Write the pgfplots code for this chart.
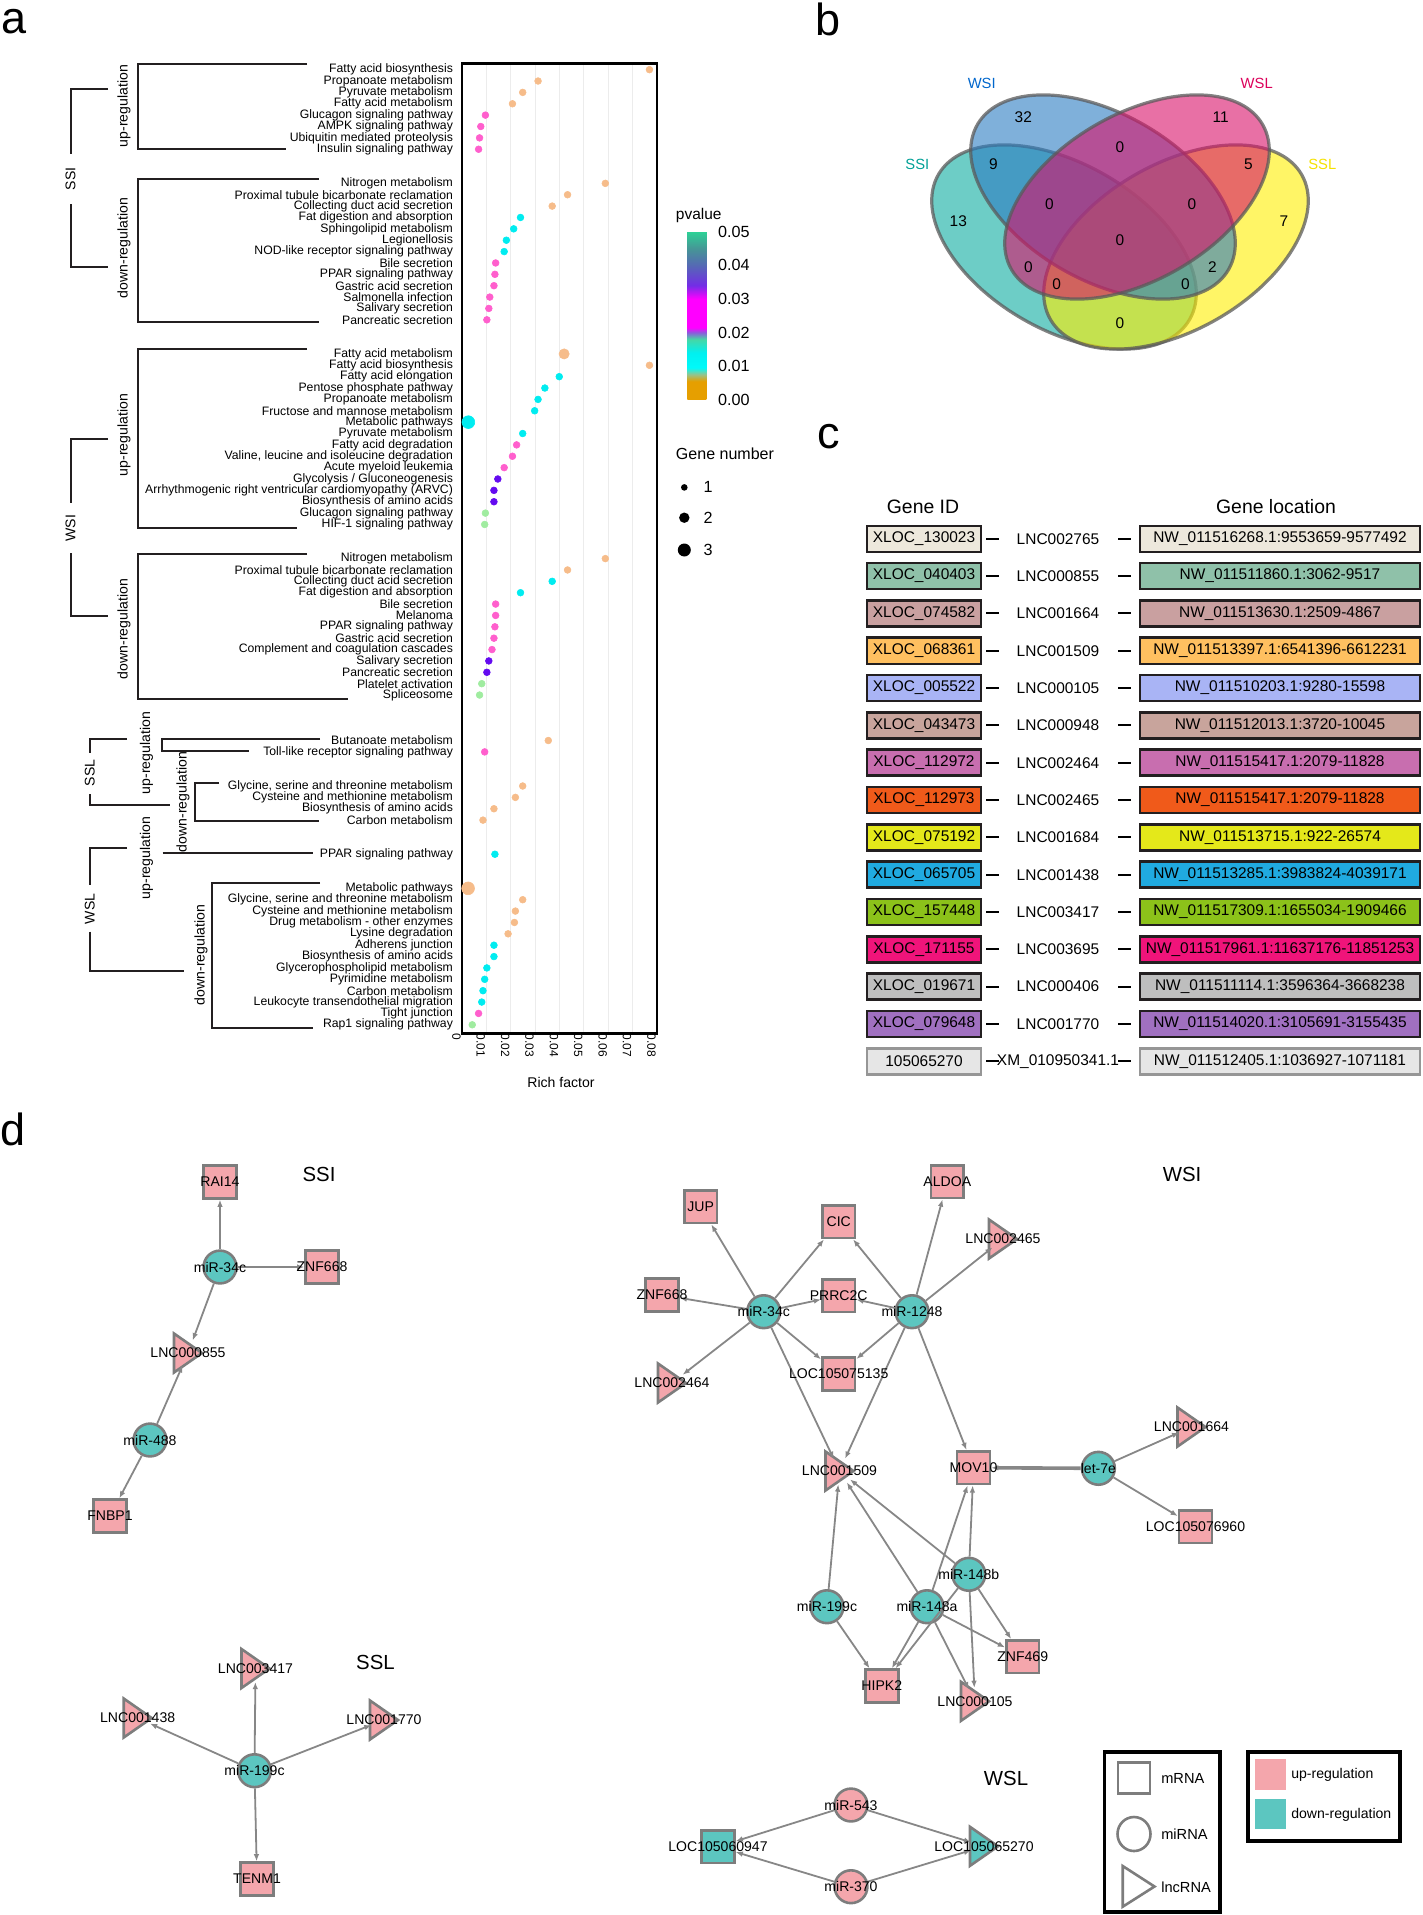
\documentclass[border=0pt]{standalone}
\usepackage{fontspec}
\setmainfont{Liberation Sans}
\usepackage{pgfplots}
\usepackage{pgfplotstable}
\pgfplotsset{compat=1.18}
\usetikzlibrary{arrows.meta}

\newcommand\fs[1]{\fontsize{#1}{#1}\selectfont}

% panel a colours
\definecolor{cpeach}{RGB}{246,188,138}
\definecolor{ccyan}{RGB}{0,236,240}
\definecolor{cpink}{RGB}{255,95,205}
\definecolor{cpurple}{RGB}{100,10,240}
\definecolor{cgreen}{RGB}{160,236,160}
\definecolor{brk}{RGB}{35,31,32}
% venn
\definecolor{vssi}{RGB}{12,172,160}
\definecolor{vwsi}{RGB}{42,123,193}
\definecolor{vwsl}{RGB}{217,17,105}
\definecolor{vssl}{RGB}{255,238,0}
\definecolor{vline}{RGB}{90,90,90}
\definecolor{lssi}{RGB}{0,160,150}
\definecolor{lwsi}{RGB}{0,102,204}
\definecolor{lwsl}{RGB}{220,0,90}
\definecolor{lssl}{RGB}{245,225,0}
% table
\definecolor{t1}{RGB}{237,232,220}
\definecolor{t2}{RGB}{143,193,169}
\definecolor{t3}{RGB}{201,160,160}
\definecolor{t4}{RGB}{255,192,96}
\definecolor{t5}{RGB}{169,180,245}
\definecolor{t6}{RGB}{200,164,156}
\definecolor{t7}{RGB}{200,110,175}
\definecolor{t8}{RGB}{240,90,26}
\definecolor{t9}{RGB}{228,232,26}
\definecolor{t10}{RGB}{32,170,224}
\definecolor{t11}{RGB}{140,194,26}
\definecolor{t12}{RGB}{240,20,122}
\definecolor{t13}{RGB}{190,190,190}
\definecolor{t14}{RGB}{160,112,192}
\definecolor{t15}{RGB}{230,230,230}
\definecolor{tbd}{RGB}{35,31,32}
\definecolor{tbg}{RGB}{150,150,150}
% network
\definecolor{npink}{RGB}{244,166,172}
\definecolor{nteal}{RGB}{92,198,192}
\definecolor{ngray}{RGB}{125,125,125}
\definecolor{egray}{RGB}{135,135,135}

% KEGG enrichment: row index, rich factor, p-value class, gene number
\pgfplotstableread{
y x c n
0 0.0769 o 1
1 0.0312 o 1
2 0.0249 o 1
3 0.0207 o 1
4 0.0096 m 1
5 0.0077 m 1
6 0.0072 m 1
7 0.0068 m 1
10 0.0588 o 1
11 0.0433 o 1
12 0.0370 o 1
13 0.0240 c 1
14 0.0212 c 1
15 0.0182 c 1
16 0.0173 c 1
17 0.0138 m 1
18 0.0135 m 1
19 0.0131 m 1
20 0.0114 m 1
21 0.0110 m 1
22 0.0102 m 1
25 0.0419 o 2
26 0.0769 o 1
27 0.0399 c 1
28 0.0340 c 1
29 0.0312 c 1
30 0.0298 c 1
31 0.0026 c 3
32 0.0249 c 1
33 0.0224 m 1
34 0.0207 m 1
35 0.0173 m 1
36 0.0147 p 1
37 0.0131 p 1
38 0.0131 p 1
39 0.0096 g 1
40 0.0093 g 1
43 0.0588 o 1
44 0.0433 o 1
45 0.0370 c 1
46 0.0240 c 1
47 0.0138 m 1
48 0.0138 m 1
49 0.0135 m 1
50 0.0131 m 1
51 0.0123 m 1
52 0.0110 p 1
53 0.0102 p 1
54 0.0081 g 1
55 0.0072 g 1
59 0.0354 o 1
60 0.0093 m 1
63 0.0249 o 1
64 0.0219 o 1
65 0.0131 o 1
66 0.0086 o 1
69 0.0135 c 1
72 0.0025 o 3
73 0.0249 o 1
74 0.0219 o 1
75 0.0215 o 1
76 0.0189 o 1
77 0.0131 c 1
78 0.0131 c 1
79 0.0102 c 1
80 0.0093 c 1
81 0.0086 c 1
82 0.0081 c 1
83 0.0068 m 1
84 0.0042 g 1
}\kegg

\tikzset{
  edge/.style={draw=egray, line width=0.45mm, -{Latex[length=1.8mm,width=1.4mm]}},
  nshape/.style={draw=ngray, line width=0.65mm},
  mrna/.style={nshape, rectangle, minimum width=8.2mm, minimum height=8.2mm, inner sep=0pt},
  mirna/.style={nshape, circle, minimum size=8.2mm, inner sep=0pt},
  nlab/.style={font=\fs{10}, inner sep=0pt},
  tbox/.style={draw=tbd, line width=0.6mm, minimum height=6.5mm, inner sep=0pt, font=\fs{11}},
}
% node shapes: name, x, y, fill
\newcommand\sq[4]{\node[mrna, fill=#4] (#1) at (#2,#3) {};}
\newcommand\ci[4]{\node[mirna, fill=#4] (#1) at (#2,#3) {};}
\newcommand\tr[4]{\filldraw[nshape, fill=#4] (#2-14,#3-19.5) -- (#2+14,#3) -- (#2-14,#3+19.5) -- cycle;
  \node[circle, minimum size=6.6mm, inner sep=0pt] (#1) at (#2,#3) {};}

\begin{document}
\begin{tikzpicture}

% ---------------- panel a ----------------
\begin{axis}[
  at={(115.5mm,-258.375mm)}, anchor=south west,
  scale only axis, width=48.75mm, height=242.5mm,
  xmin=0, xmax=0.08, ymin=-0.54, ymax=84.77, y dir=reverse,
  axis line style={line width=0.55mm},
  scaled x ticks=false,
  xtick={0,0.01,0.02,0.03,0.04,0.05,0.06,0.07,0.08},
  xticklabels={0,0.01,0.02,0.03,0.04,0.05,0.06,0.07,0.08},
  xticklabel style={rotate=-90, anchor=west, font=\fs{8.5}, inner sep=0pt, yshift=-1.4mm},
  ytick={0,1,2,3,4,5,6,7,10,11,12,13,14,15,16,17,18,19,20,21,22,25,26,27,28,29,30,31,32,33,34,35,36,37,38,39,40,43,44,45,46,47,48,49,50,51,52,53,54,55,59,60,63,64,65,66,69,72,73,74,75,76,77,78,79,80,81,82,83,84},
  yticklabels={Fatty acid biosynthesis, Propanoate metabolism, Pyruvate metabolism, Fatty acid metabolism, Glucagon signaling pathway, AMPK signaling pathway, Ubiquitin mediated proteolysis, Insulin signaling pathway,
    Nitrogen metabolism, Proximal tubule bicarbonate reclamation, Collecting duct acid secretion, Fat digestion and absorption, Sphingolipid metabolism, Legionellosis, NOD-like receptor signaling pathway, Bile secretion, PPAR signaling pathway, Gastric acid secretion, Salmonella infection, Salivary secretion, Pancreatic secretion,
    Fatty acid metabolism, Fatty acid biosynthesis, Fatty acid elongation, Pentose phosphate pathway, Propanoate metabolism, Fructose and mannose metabolism, Metabolic pathways, Pyruvate metabolism, Fatty acid degradation, {Valine, leucine and isoleucine degradation}, Acute myeloid leukemia, Glycolysis / Gluconeogenesis, Arrhythmogenic right ventricular cardiomyopathy (ARVC), Biosynthesis of amino acids, Glucagon signaling pathway, HIF-1 signaling pathway,
    Nitrogen metabolism, Proximal tubule bicarbonate reclamation, Collecting duct acid secretion, Fat digestion and absorption, Bile secretion, Melanoma, PPAR signaling pathway, Gastric acid secretion, Complement and coagulation cascades, Salivary secretion, Pancreatic secretion, Platelet activation, Spliceosome,
    Butanoate metabolism, Toll-like receptor signaling pathway,
    {Glycine, serine and threonine metabolism}, Cysteine and methionine metabolism, Biosynthesis of amino acids, Carbon metabolism,
    PPAR signaling pathway,
    Metabolic pathways, {Glycine, serine and threonine metabolism}, Cysteine and methionine metabolism, Drug metabolism - other enzymes, Lysine degradation, Adherens junction, Biosynthesis of amino acids, Glycerophospholipid metabolism, Pyrimidine metabolism, Carbon metabolism, Leukocyte transendothelial migration, Tight junction, Rap1 signaling pathway},
  yticklabel style={font=\fs{8.7}, inner xsep=0pt, xshift=-2.2mm},
  major tick length=0pt,
  xmajorgrids, grid style={gray!15, line width=0.3mm},
  clip=false,
]
\addplot[scatter, only marks, mark=*, point meta=explicit symbolic,
  scatter/classes={o={cpeach}, c={ccyan}, m={cpink}, p={cpurple}, g={cgreen}},
  visualization depends on={\thisrow{n}\as\gn},
  scatter/@pre marker code/.append style={/tikz/mark size={0.711*sqrt(11.56+14.7*(\gn-1))}}]
  table[x=x, y=y, meta=c] {\kegg};
\end{axis}

% colour bar for p-value
\begin{axis}[
  at={(168.825mm,-57.925mm)}, anchor=north east,
  scale only axis, width=1mm, height=1mm, hide axis,
  xmin=0, xmax=1, ymin=0, ymax=1,
  colormap={pv}{rgb255(0pt)=(230,159,0); rgb255(5.5pt)=(230,159,0); rgb255(7.5pt)=(150,195,140); rgb255(9.5pt)=(0,250,250); rgb255(14pt)=(0,240,240); rgb255(18pt)=(70,215,165); rgb255(20pt)=(140,90,220); rgb255(21.5pt)=(255,0,255); rgb255(30pt)=(255,0,255); rgb255(34pt)=(115,45,230); rgb255(40pt)=(85,105,180); rgb255(45pt)=(70,150,150); rgb255(50pt)=(45,210,150)},
  colorbar, point meta min=0, point meta max=0.05,
  colorbar style={at={(parent axis.north east)}, anchor=north west, xshift=0pt, yshift=0pt,
    width=4.75mm, height=42mm, scaled y ticks=false,
    ytick={0,0.01,0.02,0.03,0.04,0.05},
    yticklabels={0.00,0.01,0.02,0.03,0.04,0.05},
    yticklabel style={font=\fs{11.5}, inner xsep=0pt, xshift=2.9mm},
    major tick length=0pt, axis line style={draw=none}},
]
\addplot[draw=none, forget plot] coordinates {(0.5,0.5)};
\end{axis}

\begin{scope}[x=0.25mm, y=-0.25mm]
\path[use as bounding box] (0,0) rectangle (1422,1915);

% panel letters
\node[anchor=base west, inner sep=0pt, font=\fs{32}] at (1,33) {a};
\node[anchor=base west, inner sep=0pt, font=\fs{32}] at (815,35) {b};
\node[anchor=base west, inner sep=0pt, font=\fs{32}] at (817,448) {c};
\node[anchor=base west, inner sep=0pt, font=\fs{32}] at (0,1145) {d};

% brackets of panel a
\begin{scope}[brk, line width=0.5mm]
\draw (108,89.3) -- (70.5,89.3) -- (70.5,154);
\draw (70.5,204) -- (70.5,267.3) -- (108,267.3);
\draw (307,64) -- (138,64) -- (138,149) -- (285.6,149);
\draw (318.5,178.7) -- (138,178.7) -- (138,322) -- (318.5,322);
\draw (108,438.7) -- (70.5,438.7) -- (70.5,503);
\draw (70.5,553) -- (70.5,616) -- (108,616);
\draw (307,349) -- (138,349) -- (138,527.7) -- (296.7,527.7);
\draw (307,554.3) -- (138,554.3) -- (138,699) -- (348.4,699);
\draw (127,739) -- (89.8,739) -- (89.8,752.7);
\draw (89.8,794) -- (89.8,805) -- (169.7,805);
\draw (320,739) -- (161.6,739) -- (161.6,751) -- (249,751);
\draw (219,783) -- (195,783) -- (195,820.7) -- (318.5,820.7);
\draw (127,847.7) -- (89.8,847.7) -- (89.8,885);
\draw (89.8,931.7) -- (89.8,970.7) -- (183.8,970.7);
\draw (162.5,853) -- (313.4,853);
\draw (320,882.7) -- (212,882.7) -- (212,1027.7) -- (313.4,1027.7);
\end{scope}
\begin{scope}[every node/.style={rotate=90, font=\fs{10}, inner sep=0pt}]
\node at (70.5,179) {SSI};
\node at (124,106) {up-regulation};
\node at (124,248) {down-regulation};
\node at (70.5,528) {WSI};
\node at (124,435) {up-regulation};
\node at (124,629) {down-regulation};
\node at (89.8,773) {SSL};
\node at (146.6,753) {up-regulation};
\node at (183,802) {down-regulation};
\node at (89.8,909) {WSL};
\node at (146.6,858) {up-regulation};
\node at (201,955) {down-regulation};
\end{scope}
\node[font=\fs{10}] at (561,1082) {Rich factor};

% legend of panel a
\node[anchor=west, inner sep=0pt, font=\fs{11}] at (675.7,215) {pvalue};
\node[anchor=west, inner sep=0pt, font=\fs{11.4}] at (675.7,454) {Gene number};
\fill (684.3,487.4) circle [radius=3.3];
\fill (684.3,517.7) circle [radius=5.2];
\fill (684.3,550) circle [radius=6.5];
\node[anchor=west, inner sep=0pt, font=\fs{11.5}] at (703.3,487.4) {1};
\node[anchor=west, inner sep=0pt, font=\fs{11.5}] at (703.3,517.7) {2};
\node[anchor=west, inner sep=0pt, font=\fs{11.5}] at (703.3,550) {3};

% ---------------- panel b : Venn ----------------
\foreach \cx/\cy/\ang/\col in {1064/247/-30/vssi, 1176/247/30/vssl, 1103/197/-30/vwsi, 1137/197/30/vwsl}{
  \filldraw[fill=\col, fill opacity=0.6, draw=vline, draw opacity=0.75, line width=0.8mm,
    rotate around={\ang:(\cx,\cy)}] (\cx,\cy) ellipse [x radius=145, y radius=83];
}
\begin{scope}[every node/.style={font=\fs{11}, inner sep=0pt}]
\node at (1023.3,117.3) {32};
\node at (1220.7,117.3) {11};
\node at (1120,147.3) {0};
\node at (993.3,164) {9};
\node at (1248.3,164) {5};
\node at (958.3,220.7) {13};
\node at (1284,220.7) {7};
\node at (1049.3,204) {0};
\node at (1192,204) {0};
\node at (1120,240) {0};
\node at (1028.3,266.7) {0};
\node at (1212.3,266.7) {2};
\node at (1056.7,284) {0};
\node at (1185.3,284) {0};
\node at (1120,323.3) {0};
\end{scope}
\node[font=\fs{10.5}, text=lwsi] at (981.7,83.3) {WSI};
\node[font=\fs{10.5}, text=lwsl] at (1256.7,83.3) {WSL};
\node[font=\fs{10.5}, text=lssi] at (917.3,164) {SSI};
\node[font=\fs{10.5}, text=lssl] at (1322.3,164) {SSL};

% ---------------- panel c : table ----------------
\node[font=\fs{13.8}] at (923,507) {Gene ID};
\node[font=\fs{13.8}] at (1276,507) {Gene location};
\foreach \i/\id/\lnc/\loc/\col/\bd in {
  1/XLOC\_130023/LNC002765/NW\_011516268.1:9553659-9577492/t1/tbd,
  2/XLOC\_040403/LNC000855/NW\_011511860.1:3062-9517/t2/tbd,
  3/XLOC\_074582/LNC001664/NW\_011513630.1:2509-4867/t3/tbd,
  4/XLOC\_068361/LNC001509/NW\_011513397.1:6541396-6612231/t4/tbd,
  5/XLOC\_005522/LNC000105/NW\_011510203.1:9280-15598/t5/tbd,
  6/XLOC\_043473/LNC000948/NW\_011512013.1:3720-10045/t6/tbd,
  7/XLOC\_112972/LNC002464/NW\_011515417.1:2079-11828/t7/tbd,
  8/XLOC\_112973/LNC002465/NW\_011515417.1:2079-11828/t8/tbd,
  9/XLOC\_075192/LNC001684/NW\_011513715.1:922-26574/t9/tbd,
  10/XLOC\_065705/LNC001438/NW\_011513285.1:3983824-4039171/t10/tbd,
  11/XLOC\_157448/LNC003417/NW\_011517309.1:1655034-1909466/t11/tbd,
  12/XLOC\_171155/LNC003695/NW\_011517961.1:11637176-11851253/t12/tbd,
  13/XLOC\_019671/LNC000406/NW\_011511114.1:3596364-3668238/t13/tbd,
  14/XLOC\_079648/LNC001770/NW\_011514020.1:3105691-3155435/t14/tbd,
  15/105065270/XM\_010950341.1/NW\_011512405.1:1036927-1071181/t15/tbg}{
  \pgfmathsetmacro\yy{538.7+(\i-1)*37.33}
  \node[tbox, draw=\bd, fill=\col, minimum width=28.5mm] at (924,\yy) {\id};
  \draw[line width=0.5mm] (986,\yy) -- (999,\yy);
  \node[font=\fs{11}] at (1058,\yy) {\lnc};
  \draw[line width=0.5mm] (1118,\yy) -- (1131,\yy);
  \node[tbox, draw=\bd, fill=\col, minimum width=70mm] at (1280,\yy) {\loc};
}

% ---------------- panel d : networks ----------------
\begin{scope}[every node/.style={font=\fs{14.5}}]
\node at (319,1174) {SSI};
\node at (1182,1174) {WSI};
\node at (375.5,1662) {SSL};
\node at (1006,1778) {WSL};
\end{scope}

% SSI
\sq{rai}{220}{1182}{npink}
\ci{ma}{220}{1267}{nteal}
\sq{zna}{322}{1267}{npink}
\tr{la}{188}{1353}{npink}
\ci{mb}{150}{1440}{nteal}
\sq{fn}{110}{1516}{npink}
% WSI
\sq{jup}{700.7}{1206.7}{npink}
\sq{cic}{838.7}{1221.7}{npink}
\sq{ald}{947.3}{1181.7}{npink}
\tr{l65}{1003}{1239}{npink}
\sq{znb}{662}{1295}{npink}
\ci{m34}{763.7}{1311.7}{nteal}
\sq{prr}{838.7}{1295.7}{npink}
\ci{m12}{912}{1311.7}{nteal}
\sq{loc35}{838.7}{1374}{npink}
\tr{l64}{672}{1383}{npink}
\tr{l09}{839.5}{1471}{npink}
\sq{mov}{973.5}{1467.7}{npink}
\ci{let}{1098.4}{1468.3}{nteal}
\tr{l1664}{1191.5}{1427}{npink}
\sq{loc60}{1195.5}{1526.7}{npink}
\ci{m48b}{968.8}{1574.3}{nteal}
\ci{m99}{827}{1606.7}{nteal}
\ci{m48a}{927}{1606.7}{nteal}
\sq{zn469}{1022.7}{1656.7}{npink}
\sq{hip}{881.8}{1686}{npink}
\tr{l105}{975}{1701.3}{npink}
% SSL
\tr{l3417}{255.5}{1668.5}{npink}
\tr{l1438}{137.7}{1718}{npink}
\tr{l1770}{384}{1720}{npink}
\ci{m99s}{254.5}{1770.7}{nteal}
\sq{tenm}{257}{1879}{npink}
% WSL
\ci{m543}{851}{1805}{npink}
\sq{loc47}{718}{1846.7}{nteal}
\tr{loc70}{984}{1846.3}{nteal}
\ci{m370}{851}{1886.7}{npink}

% edges
\foreach \a/\b in {ma/rai, ma/zna, ma/la, mb/la, mb/fn,
  m34/jup, m34/cic, m34/znb, m34/prr, m34/loc35, m34/l64, m34/l09,
  m12/cic, m12/ald, m12/l65, m12/prr, m12/loc35, m12/l09, m12/mov,
  let/l1664, let/loc60,
  m99/l09, m99/hip, m48a/l09, m48a/mov, m48a/hip, m48a/zn469, m48a/l105,
  m48b/l09, m48b/mov, m48b/zn469, m48b/l105, m48b/hip,
  m99s/l3417, m99s/l1438, m99s/l1770, m99s/tenm,
  m543/loc47, m543/loc70, m370/loc47, m370/loc70}{
  \draw[edge] (\a) -- (\b);
}
\draw[edge, line width=0.9mm] (let) -- (mov);

% node labels
\foreach \n/\t in {rai/RAI14, ma/miR-34c, zna/ZNF668, la/LNC000855, mb/miR-488, fn/FNBP1,
  jup/JUP, cic/CIC, ald/ALDOA, l65/LNC002465, znb/ZNF668, m34/miR-34c, prr/PRRC2C, m12/miR-1248,
  loc35/LOC105075135, l64/LNC002464, l09/LNC001509, mov/MOV10, let/let-7e, l1664/LNC001664,
  loc60/LOC105076960, m48b/miR-148b, m99/miR-199c, m48a/miR-148a, zn469/ZNF469, hip/HIPK2,
  l105/LNC000105, l3417/LNC003417, l1438/LNC001438, l1770/LNC001770, m99s/miR-199c, tenm/TENM1,
  m543/miR-543, loc47/LOC105060947, loc70/LOC105065270, m370/miR-370}{
  \node[nlab] at (\n) {\t};
}

% network legends
\draw[line width=0.9mm] (1104.5,1752) rectangle (1220,1912);
\draw[nshape, fill=white] (1118,1762.5) rectangle (1150,1793.5);
\draw[nshape, fill=white] (1134,1834) ellipse [x radius=16.5, y radius=17];
\draw[nshape, fill=white] (1122.7,1866) -- (1154.5,1886.5) -- (1122.7,1906.7) -- cycle;
\node[anchor=west, font=\fs{10.4}, inner sep=0pt] at (1161,1778) {mRNA};
\node[anchor=west, font=\fs{10.4}, inner sep=0pt] at (1161,1834) {miRNA};
\node[anchor=west, font=\fs{10.4}, inner sep=0pt] at (1161,1887) {lncRNA};
\draw[line width=0.9mm] (1248,1752) rectangle (1400,1841);
\fill[npink] (1254.5,1759) rectangle (1286,1790);
\fill[nteal] (1254.5,1799) rectangle (1286,1829);
\node[anchor=west, font=\fs{10}, inner sep=0pt] at (1291,1775) {up-regulation};
\node[anchor=west, font=\fs{10}, inner sep=0pt] at (1291,1815) {down-regulation};
\end{scope}

\end{tikzpicture}
\end{document}
